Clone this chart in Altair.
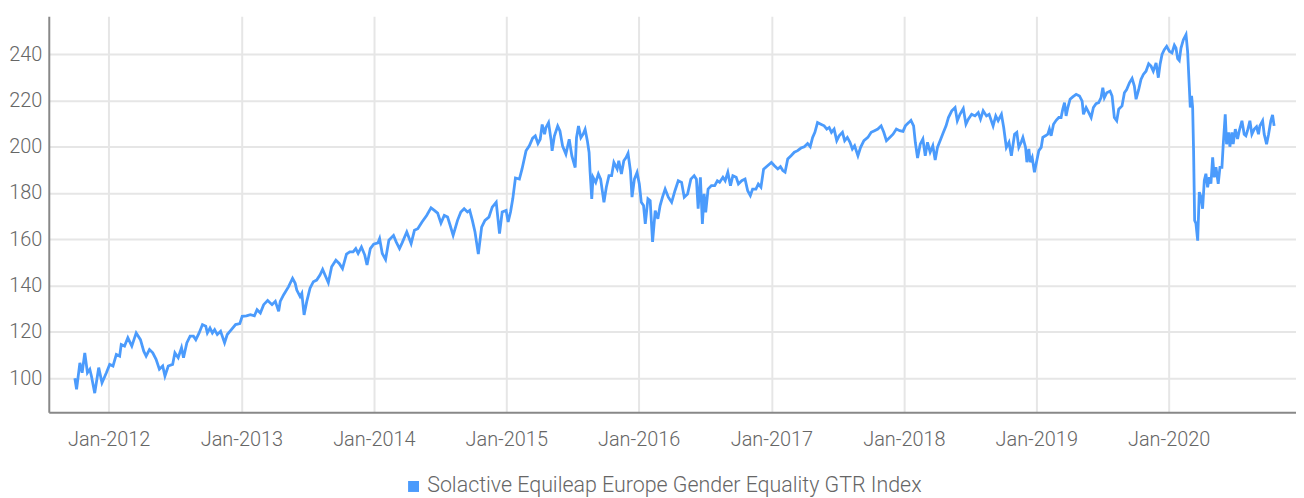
import altair as alt
import pandas as pd

# ---- data (decimal year, index level) ----
t_2011_2013 = [2011.745, 2011.758, 2011.783, 2011.80, 2011.82, 2011.84, 2011.858, 2011.87, 2011.895, 2011.925,
               2011.95, 2011.983, 2012.008, 2012.033, 2012.058, 2012.083, 2012.095, 2012.12, 2012.145, 2012.175,
               2012.208, 2012.24, 2012.265, 2012.283, 2012.308, 2012.333, 2012.358, 2012.383, 2012.408, 2012.425,
               2012.45, 2012.483, 2012.50, 2012.525, 2012.55, 2012.565, 2012.59, 2012.615, 2012.64, 2012.658,
               2012.683, 2012.708, 2012.733, 2012.745, 2012.765, 2012.783, 2012.80, 2012.82, 2012.845, 2012.875,
               2012.895, 2012.92, 2012.958, 2012.99, 2013.008, 2013.04, 2013.07, 2013.10, 2013.12, 2013.145,
               2013.17, 2013.20, 2013.233, 2013.258, 2013.283, 2013.295, 2013.32, 2013.358, 2013.388, 2013.408]
v_2011_2013 = [100, 95.3, 106.7, 102.4, 111, 102.4, 103.9, 101, 93.6, 104.6,
               98.1, 102.4, 106, 105.3, 110.3, 109.6, 114.6, 113.9, 117.5, 113.9,
               119.6, 116.7, 111.7, 109.6, 112.4, 111, 108.2, 103.9, 105.3, 101,
               105.3, 106, 111, 108.9, 113.2, 108.9, 115.3, 118.2, 118.2, 116.7,
               119.6, 123.2, 122.5, 119.6, 121.7, 119.6, 121, 118.9, 120.3, 115.3,
               118.9, 120.6, 123.2, 123.6, 126.8, 127, 127.5, 127, 129.6, 128.2,
               131.8, 133.6, 131.8, 133.2, 128.9, 133.2, 136, 139.6, 143.2, 141]

t_2013_2015 = [2013.42, 2013.445, 2013.458, 2013.475, 2013.495, 2013.52, 2013.545, 2013.57, 2013.595, 2013.615,
               2013.633, 2013.658, 2013.683, 2013.715, 2013.74, 2013.765, 2013.795, 2013.82, 2013.845, 2013.865,
               2013.883, 2013.908, 2013.933, 2013.95, 2013.975, 2014.0, 2014.033, 2014.045, 2014.065, 2014.09,
               2014.115, 2014.15, 2014.17, 2014.195, 2014.215, 2014.25, 2014.283, 2014.308, 2014.333, 2014.365,
               2014.40, 2014.433, 2014.458, 2014.483, 2014.508, 2014.533, 2014.558, 2014.575, 2014.60, 2014.633,
               2014.658, 2014.683, 2014.708, 2014.725, 2014.745, 2014.765, 2014.79, 2014.815, 2014.84, 2014.87,
               2014.895, 2014.925, 2014.95, 2014.97, 2015.0, 2015.015, 2015.033, 2015.05, 2015.07, 2015.10,
               2015.12, 2015.15, 2015.175, 2015.20, 2015.22, 2015.24]
v_2013_2015 = [138.1, 135.3, 136.7, 127.4, 133.1, 138.9, 141.7, 142.4, 144.6, 147,
               144.6, 141.3, 148.2, 151, 149.6, 147.4, 153.6, 154.6, 154.6, 156,
               153.9, 156.7, 153.2, 148.9, 156, 157.9, 158.5, 160.3, 153.9, 151.3,
               159.6, 161.7, 158.9, 156, 158.5, 163.2, 158.2, 163.9, 164.6, 167.5,
               170.3, 173.6, 172.5, 171.3, 167, 170.3, 169.6, 166.5, 161.7, 168.2,
               171.8, 173.2, 171.8, 172.5, 168.2, 163.2, 153.6, 165.3, 168.2, 169.6,
               173.9, 176, 162.5, 171.8, 172.5, 167.5, 171.8, 177.5, 186.5, 186,
               190.4, 198.2, 200.4, 203.7, 204.7, 201.4]

t_2015_2017 = [2015.257, 2015.272, 2015.29, 2015.30, 2015.32, 2015.34, 2015.347, 2015.364, 2015.389, 2015.406,
               2015.426, 2015.451, 2015.476, 2015.496, 2015.521, 2015.531, 2015.546, 2015.564, 2015.581, 2015.596,
               2015.613, 2015.626, 2015.633, 2015.646, 2015.656, 2015.676, 2015.696, 2015.713, 2015.738, 2015.756,
               2015.776, 2015.796, 2015.813, 2015.838, 2015.85, 2015.87, 2015.888, 2015.905, 2015.92, 2015.938,
               2015.95, 2015.968, 2015.988, 2016.005, 2016.02, 2016.037, 2016.05, 2016.07, 2016.087, 2016.105,
               2016.125, 2016.145, 2016.162, 2016.18, 2016.20, 2016.224, 2016.249, 2016.274, 2016.299, 2016.324,
               2016.344, 2016.369, 2016.394, 2016.419, 2016.436, 2016.449, 2016.466, 2016.481, 2016.494, 2016.506,
               2016.524, 2016.549, 2016.574, 2016.594, 2016.611, 2016.636, 2016.653, 2016.673, 2016.693, 2016.711,
               2016.736, 2016.753, 2016.778, 2016.803, 2016.823, 2016.843, 2016.86, 2016.885, 2016.903, 2016.923,
               2016.943, 2016.973, 2017.002]
v_2015_2017 = [203.2, 209.6, 205.4, 208.2, 210.4, 202.5, 198.2, 204.6, 208.9, 206.8,
               200.3, 196.8, 203.2, 196, 191, 203.9, 208.9, 203.9, 205.4, 207.5,
               202.5, 197.5, 189.6, 177.5, 186.8, 184.6, 188.2, 186, 176, 182.5,
               187.5, 187.5, 193.2, 190.4, 193.9, 188.2, 193.9, 195.3, 197.1, 189.6,
               178.2, 186, 188.9, 183.9, 176, 174.6, 166.7, 177.5, 176.7, 158.9,
               172.4, 168.9, 174.6, 178.2, 181.7, 178.2, 176, 181, 185.3, 184.6,
               178.2, 179.6, 186, 187.5, 186, 173.2, 186.8, 166.7, 179.6, 171.7,
               181.7, 183.2, 183.2, 185.3, 184.6, 186.8, 185.3, 188.9, 183.2, 187.5,
               186.8, 183.9, 185.3, 186, 181, 178.9, 181.7, 181.7, 183.9, 182.5,
               190.3, 191.8, 193.2]

t_2017_2018 = [2017.025, 2017.05, 2017.07, 2017.088, 2017.105, 2017.125, 2017.15, 2017.175, 2017.20, 2017.225,
               2017.25, 2017.275, 2017.295, 2017.313, 2017.33, 2017.35, 2017.375, 2017.40, 2017.42, 2017.438,
               2017.455, 2017.475, 2017.495, 2017.513, 2017.538, 2017.555, 2017.575, 2017.595, 2017.613, 2017.63,
               2017.655, 2017.675, 2017.70, 2017.73, 2017.755, 2017.78, 2017.805, 2017.83, 2017.85, 2017.87,
               2017.895, 2017.92, 2017.945, 2017.97, 2017.995, 2018.013, 2018.038, 2018.055, 2018.075, 2018.088,
               2018.105, 2018.125, 2018.145, 2018.163, 2018.18, 2018.20, 2018.22, 2018.238, 2018.255, 2018.275,
               2018.30, 2018.32, 2018.338, 2018.363, 2018.388, 2018.405, 2018.425, 2018.45, 2018.47, 2018.488,
               2018.513, 2018.538, 2018.563, 2018.58, 2018.60, 2018.625, 2018.645, 2018.675, 2018.695, 2018.713,
               2018.738, 2018.755, 2018.775, 2018.795, 2018.813]
v_2017_2018 = [191.8, 190.4, 191.4, 189.7, 189, 194.7, 196.1, 197.6, 198.3, 199.4,
               200, 201.4, 200, 204, 206.2, 210.4, 209.7, 209, 207.6, 208.3,
               206.2, 207.6, 202.6, 204.7, 206.2, 202.6, 204, 201.9, 199, 200.4,
               196.1, 199.7, 202.6, 204, 206.2, 206.9, 207.6, 209, 206.2, 202.6,
               204, 205.4, 207.6, 206.9, 206.6, 209, 210.4, 211.4, 209, 201.9,
               195.1, 201.1, 203.3, 196.1, 201.9, 197.6, 200.4, 194.3, 199.7, 202.6,
               206.2, 209, 212.6, 215.5, 216.9, 211.2, 214, 216.5, 209.7, 211.9,
               214, 213.3, 214.7, 211.9, 215.5, 213.3, 214, 209, 213.3, 211.2,
               214, 208.3, 199.7, 201.9, 196.1]

t_2018_2020 = [2018.837, 2018.854, 2018.869, 2018.887, 2018.90, 2018.92, 2018.93, 2018.945, 2018.955, 2018.97,
               2018.987, 2019.005, 2019.02, 2019.038, 2019.05, 2019.07, 2019.088, 2019.10, 2019.113, 2019.131,
               2019.151, 2019.171, 2019.188, 2019.201, 2019.214, 2019.226, 2019.239, 2019.256, 2019.276, 2019.302,
               2019.327, 2019.347, 2019.357, 2019.377, 2019.397, 2019.415, 2019.432, 2019.452, 2019.472, 2019.49,
               2019.503, 2019.515, 2019.533, 2019.558, 2019.573, 2019.59, 2019.608, 2019.623, 2019.648, 2019.666,
               2019.683, 2019.704, 2019.724, 2019.741, 2019.754, 2019.774, 2019.791, 2019.809, 2019.829, 2019.849,
               2019.867, 2019.884, 2019.905, 2019.922, 2019.935, 2019.95, 2019.967, 2019.985, 2020.005, 2020.025,
               2020.043, 2020.055, 2020.068, 2020.08, 2020.093, 2020.111, 2020.131, 2020.143, 2020.156, 2020.163,
               2020.173, 2020.181, 2020.188, 2020.196, 2020.206, 2020.219, 2020.231, 2020.244, 2020.256, 2020.269,
               2020.281, 2020.294, 2020.307, 2020.319, 2020.332, 2020.344, 2020.357, 2020.374, 2020.387, 2020.402,
               2020.412, 2020.427, 2020.437, 2020.452, 2020.462, 2020.477, 2020.487, 2020.503, 2020.52, 2020.533,
               2020.553, 2020.57, 2020.583, 2020.595, 2020.613, 2020.628, 2020.646, 2020.663, 2020.678, 2020.688,
               2020.709, 2020.721, 2020.739, 2020.754, 2020.771, 2020.784, 2020.796]
v_2018_2020 = [205.4, 206.2, 199.7, 201.9, 204, 199.7, 193.3, 199, 193.3, 195.4,
               189, 194, 198.3, 199.7, 204, 204.7, 205.4, 207.6, 204.7, 209.7,
               211.4, 212.6, 212.6, 216.2, 219, 213.3, 216.9, 220.5, 221.5, 222.6,
               221.9, 219.7, 214, 216.9, 214.7, 212.6, 216.9, 218.6, 219, 221.2,
               225.5, 221.2, 223.3, 224, 221.9, 212.6, 211.2, 216.2, 217.6, 223.3,
               224.7, 227.6, 229.5, 226.2, 220.5, 224.7, 229, 231.2, 232.6, 235.8,
               234.8, 232.6, 236.2, 229.8, 235.5, 239.8, 241.9, 243.3, 241.2, 240.5,
               243.8, 242.6, 238, 237.2, 242.6, 246.2, 248.4, 241.2, 225.5, 216.9,
               221.9, 216.9, 198.3, 168.2, 166.8, 159.4, 180.4, 178.3, 173.2, 185.4,
               188.3, 182.5, 186.8, 184, 195.4, 186.8, 191.1, 184, 191.1, 191.1,
               201.1, 214, 201.1, 206.2, 200, 206.2, 201.1, 207.6, 203.3, 206.9,
               211.2, 205.4, 204.7, 206.9, 211.2, 205.4, 207.6, 208.6, 205.4, 209,
               211.2, 205.4, 201.1, 205.4, 211.2, 213.7, 209]

series_name = "Solactive Equileap Europe Gender Equality GTR Index"
y_ticks = [100, 120, 140, 160, 180, 200, 220, 240]
x_tick_years = list(range(2012, 2021))

# ---- build table ----
years = t_2011_2013 + t_2013_2015 + t_2015_2017 + t_2017_2018 + t_2018_2020
values = v_2011_2013 + v_2013_2015 + v_2015_2017 + v_2017_2018 + v_2018_2020
base = pd.Timestamp("2012-01-01")
dates = [base + pd.to_timedelta((y - 2012) * 365.25, unit="D") for y in years]
df = pd.DataFrame({"date": dates, "value": values, "series": series_name})

BLUE = "#4b9bfc"
FONT = "Roboto"
TEXT = "#666666"
FS = 20

chart = alt.Chart(df).mark_line(strokeWidth=2.8, interpolate="linear").encode(
    x=alt.X("date:T",
            scale=alt.Scale(domain=[alt.DateTime(year=2011, month=7, date=20),
                                    alt.DateTime(year=2020, month=12, date=17)], nice=False),
            axis=alt.Axis(title=None, format="%b-%Y",
                          values=[alt.DateTime(year=y, month=1, date=1) for y in x_tick_years],
                          ticks=False, tickSize=0, labelPadding=18, labelFontSize=FS,
                          labelFont=FONT, labelFontWeight=300, labelColor=TEXT,
                          domainColor="#888888", domainWidth=2,
                          grid=True, gridColor="#e6e6e6", gridWidth=2, labelFlush=False)),
    y=alt.Y("value:Q",
            scale=alt.Scale(domain=[85.4, 256.3], nice=False, zero=False),
            axis=alt.Axis(title=None, values=y_ticks, ticks=False, tickSize=0, labelPadding=7,
                          labelFontSize=FS, labelFont=FONT, labelFontWeight=300, labelColor=TEXT,
                          domainColor="#888888", domainWidth=2,
                          grid=True, gridColor="#e6e6e6", gridWidth=2)),
    color=alt.Color("series:N", scale=alt.Scale(range=[BLUE]),
                    legend=alt.Legend(title=None, orient="none", legendX=356, legendY=462,
                                      symbolType="square", symbolSize=121,
                                      symbolFillColor=BLUE, symbolStrokeColor=BLUE,
                                      symbolStrokeWidth=0, labelFont=FONT, labelFontWeight=300,
                                      labelFontSize=21.5, labelColor=TEXT,
                                      labelOffset=3, padding=0, labelLimit=0)),
).properties(
    width=1254, height=398,
    padding={"left": 0, "top": 7, "right": 0, "bottom": 0},
).configure_view(stroke=None)

chart.save("out.html", embed_options={"renderer": "svg", "actions": False})
